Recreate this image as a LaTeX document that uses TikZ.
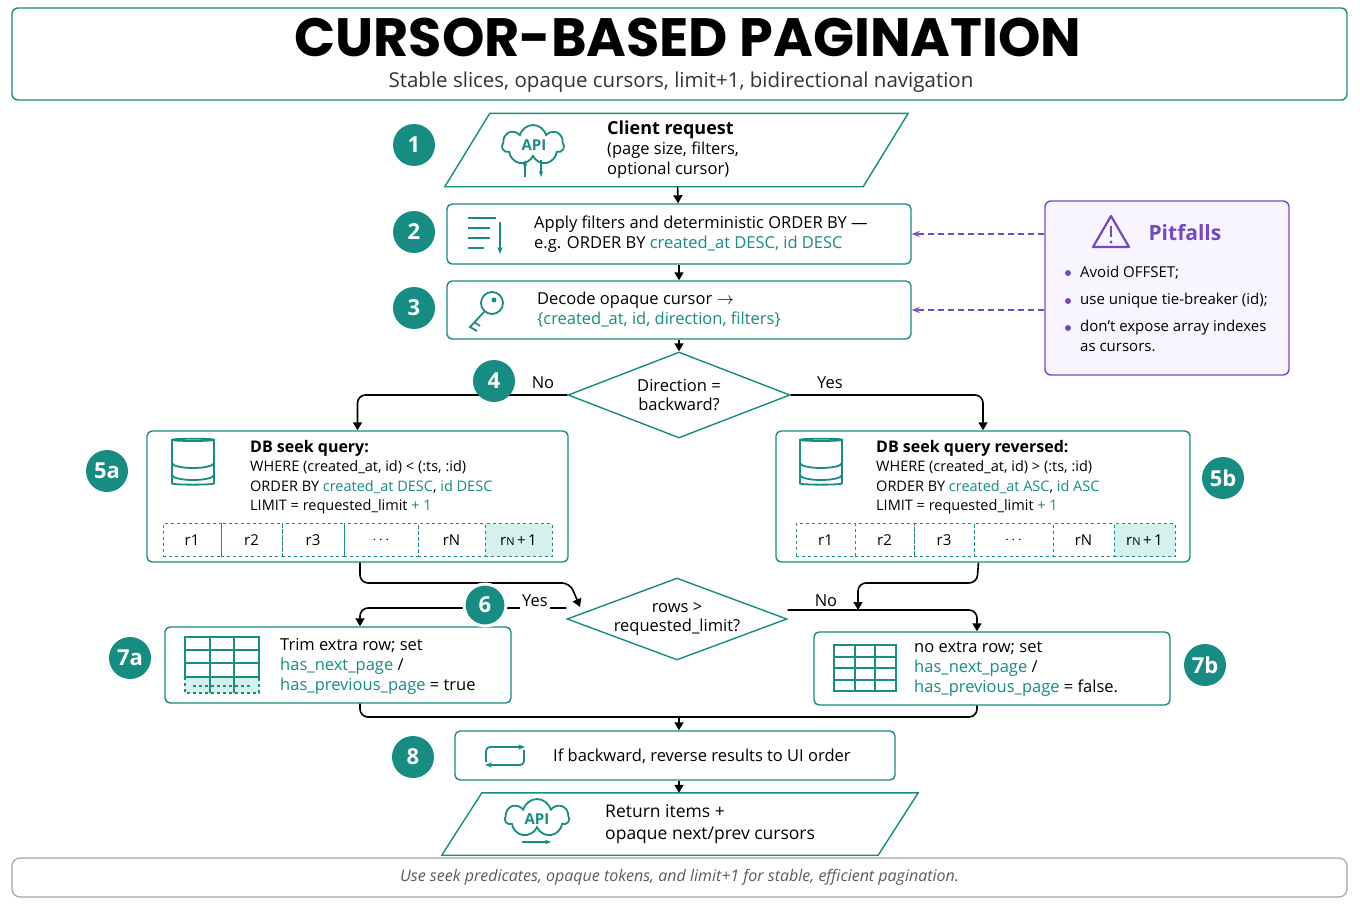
\documentclass[tikz,border=0pt]{standalone}
\usepackage{fontspec}
\setmainfont{Open Sans}
\newfontfamily\titlefont{Poppins}
\usetikzlibrary{shapes.geometric,shapes.symbols,arrows.meta}
\definecolor{teal}{RGB}{22,140,130}
\definecolor{tealfill}{RGB}{212,241,237}
\definecolor{purp}{RGB}{118,72,196}
\definecolor{purpfill}{RGB}{248,245,255}
\definecolor{footgray}{RGB}{90,90,90}
\tikzset{
  box/.style={draw=teal,line width=1.4pt,rounded corners=5pt,fill=white},
  para/.style={inner sep=0pt},
  dia/.style={draw=teal,line width=1.4pt,diamond,fill=white,aspect=2.6},
  num/.style={circle,fill=teal,text=white,minimum size=42pt,inner sep=0pt,font=\fontsize{22}{22}\selectfont\bfseries},
  txt/.style={anchor=west,align=left,inner sep=0pt,font=\fontsize{16.5}{20}\selectfont},
  lbl/.style={font=\fontsize{16.5}{16.5}\selectfont,fill=white,inner sep=2pt},
  flow/.style={line width=1.6pt,-{Triangle[length=8pt,width=9pt]},rounded corners=8pt},
  line/.style={line width=1.6pt,rounded corners=8pt},
  hint/.style={purp,dash pattern=on 6pt off 4pt,line width=1.1pt,-{Stealth[length=8pt]}},
  cell/.style={draw=teal,dashed,line width=1pt,minimum height=33pt,inner sep=0pt,font=\fontsize{15}{15}\selectfont},
  ico/.style={teal,line width=1.8pt},
}
\newcommand{\hl}[1]{\textcolor{teal}{#1}}
\newcommand{\slantbox}[2]{\draw[draw=teal,line width=1.4pt,fill=white] (#1.south west) -- ([xshift=#2]#1.north west) -- (#1.north east) -- ([xshift=-#2]#1.south east) -- cycle;}
\begin{document}
\begin{tikzpicture}[x=1pt,y=-1pt]
\useasboundingbox (0,0) rectangle (1360,907);
% title and footer
\node[box,rounded corners=6pt,minimum width=1335pt,minimum height=92pt] (head) at (679.5,54) {};
\node[inner sep=0pt,font=\titlefont\fontsize{54}{54}\selectfont\bfseries] (title) at (688,37) {CURSOR-BASED PAGINATION};
\node[inner sep=0pt,font=\fontsize{20.5}{20.5}\selectfont,text=black!80] (sub) at (681,82) {Stable slices, opaque cursors, limit+1, bidirectional navigation};
\node[draw=black!35,line width=1.2pt,rounded corners=8pt,minimum width=1335pt,minimum height=39pt] (foot) at (679.5,877.5) {};
\node[font=\fontsize{16}{16}\selectfont\itshape,text=footgray] at (foot) {Use seek predicates, opaque tokens, and limit+1 for stable, efficient pagination.};

% step 1
\node[para,minimum width=463pt,minimum height=73pt] (req) at (676.5,150) {};
\slantbox{req}{45pt}
\node[cloud,draw=teal,line width=1.8pt,cloud puffs=7,aspect=1.5,minimum width=62pt,minimum height=40pt] (api1) at (533,145) {};
\node[font=\fontsize{15}{15}\selectfont\bfseries,text=teal,fill=white,inner sep=1pt] at (534,145) {API};
\draw[ico,-{Stealth[length=6pt]}] (525,177) -- (525,160);
\draw[ico,-{Stealth[length=6pt]}] (541,160) -- (541,177);
\node[txt] at (607,150) {\textbf{\fontsize{18}{20}\selectfont Client request}\\(page size, filters,\\optional cursor)};

% step 2
\node[box,minimum width=464pt,minimum height=60pt] (ord) at (679,234) {};
\foreach \yy/\ww in {218/28,228/22,238/22,248/16} \draw[ico] (468,\yy) -- ++(\ww,0);
\draw[ico,-{Stealth[length=7pt]}] (500,222) -- (500,254);
\node[txt] at (534,234) {Apply filters and deterministic ORDER BY ---\\e.g. ORDER BY \hl{created\_at DESC, id DESC}};

% step 3
\node[box,minimum width=464pt,minimum height=58pt] (dec) at (679,310) {};
\draw[ico] (492,303) circle (11pt);
\fill[teal] (494,300) circle (2.5pt);
\draw[ico] (484,312) -- (470,327) -- (477,331) (474,322) -- (480,326);
\node[txt] at (537,310) {Decode opaque cursor $\rightarrow$\\\hl{\{created\_at, id, direction, filters\}}};

% pitfalls
\node[draw=purp,fill=purpfill,line width=1.4pt,rounded corners=6pt,minimum width=244pt,minimum height=174pt] (pit) at (1167,288) {};
\draw[purp,line width=2.2pt,line join=round] (1111,216) -- (1129,247) -- (1093,247) -- cycle;
\draw[purp,line width=2.4pt] (1111,226) -- (1111,237);
\fill[purp] (1111,242) circle (1.6pt);
\node[anchor=west,font=\fontsize{21}{21}\selectfont\bfseries,text=purp] at (1145,233) {Pitfalls};
\foreach \yy/\tt in {273/Avoid OFFSET;,301/use unique tie-breaker (id);,328/don't expose array indexes} {
  \fill[purp] (1068,\yy) circle (3pt);
  \node[anchor=west,inner sep=0pt,font=\fontsize{15}{15}\selectfont] at (1080,\yy) {\tt};
}
\node[anchor=west,inner sep=0pt,font=\fontsize{15}{15}\selectfont] at (1080,348) {as cursors.};
\draw[hint] (pit.west |- ord) -- (ord.east);
\draw[hint] (pit.west |- dec) -- (dec.east);

% step 4
\node[dia,minimum width=222pt,minimum height=86pt] (dir) at (679,395) {};
\node[align=center,font=\fontsize{16.5}{19}\selectfont] at (679,395) {Direction =\\backward?};

% step 5a
\node[box,minimum width=421pt,minimum height=131pt] (qa) at (357.5,496.5) {};
\node[cylinder,shape border rotate=90,draw=teal,line width=1.8pt,aspect=0.35,minimum width=42pt,minimum height=46pt] (dba) at (193,463) {};
\draw[ico] (172,463) arc (180:360:21pt and 5pt) (172,475) arc (180:360:21pt and 5pt);
\node[txt,font=\fontsize{14.5}{19.5}\selectfont] at (250,477) {\textbf{\fontsize{16}{16}\selectfont DB seek query:}\\WHERE (created\_at, id) < (:ts, :id)\\ORDER BY \hl{created\_at DESC}, \hl{id DESC}\\LIMIT = requested\_limit \hl{+ 1}};
\foreach \a/\b/\t [count=\i] in {163/221/r1,221/282/r2,282/344/r3,344/418/$\cdots$,418/485/rN}
  \node[cell,minimum width=\b pt-\a pt] (ra\i) at ({(\a+\b)/2},540) {\t};
\node[cell,fill=tealfill,minimum width=67pt] (ra6) at (518.5,540) {r{\fontsize{11}{11}\selectfont N}\,+\,1};

% step 5b
\node[box,minimum width=414pt,minimum height=131pt] (qb) at (983,496.5) {};
\node[cylinder,shape border rotate=90,draw=teal,line width=1.8pt,aspect=0.35,minimum width=42pt,minimum height=46pt] (dbb) at (821,463) {};
\draw[ico] (800,463) arc (180:360:21pt and 5pt) (800,475) arc (180:360:21pt and 5pt);
\node[txt,font=\fontsize{14.5}{19.5}\selectfont] at (876,477) {\textbf{\fontsize{16}{16}\selectfont DB seek query reversed:}\\WHERE (created\_at, id) > (:ts, :id)\\ORDER BY \hl{created\_at ASC}, \hl{id ASC}\\LIMIT = requested\_limit \hl{+ 1}};
\foreach \a/\b/\t [count=\i] in {796/855/r1,855/914/r2,914/974/r3,974/1053/$\cdots$,1053/1114/rN}
  \node[cell,minimum width=\b pt-\a pt] (rb\i) at ({(\a+\b)/2},540) {\t};
\node[cell,fill=tealfill,minimum width=61pt] (rb6) at (1144.5,540) {r{\fontsize{11}{11}\selectfont N}\,+\,1};

% step 6
\node[dia,minimum width=220pt,minimum height=82pt] (cmp) at (677,619) {};
\node[align=center,font=\fontsize{16.5}{19}\selectfont] at (677,619) {rows >\\requested\_limit?};

% step 7a
\node[box,minimum width=346pt,minimum height=76pt] (trim) at (338,665) {};
\fill[tealfill] (185,677) rectangle (259,693);
\draw[ico,line width=1.4pt] (185,637) rectangle (259,677);
\draw[ico,line width=1.4pt] (185,650) -- (259,650) (185,663) -- (259,663) (210,637) -- (210,693) (234,637) -- (234,693);
\draw[ico,line width=1.4pt,dashed] (185,677) rectangle (259,693) (193,686) -- (251,686);
\node[txt] at (280,666) {Trim extra row; set\\\hl{has\_next\_page} /\\\hl{has\_previous\_page} = true};

% step 7b
\node[box,minimum width=356pt,minimum height=73pt] (keep) at (992,668.5) {};
\draw[ico,line width=1.4pt] (834,645) rectangle (896,691);
\draw[ico,line width=1.4pt] (834,657) -- (896,657) (834,668) -- (896,668) (834,680) -- (896,680) (855,645) -- (855,691) (875,645) -- (875,691);
\node[txt] at (914,669) {no extra row; set\\\hl{has\_next\_page} /\\\hl{has\_previous\_page} = false.};

% step 8
\node[box,minimum width=440pt,minimum height=49pt] (rev) at (675,755.5) {};
\draw[ico,-{Stealth[length=7pt]},rounded corners=4pt] (486,762) -- (486,747) -- (525,747);
\draw[ico,-{Stealth[length=7pt]},rounded corners=4pt] (524,750) -- (524,765) -- (485,765);
\node[txt] at (553,756) {If backward, reverse results to UI order};

% output
\node[para,minimum width=476pt,minimum height=62pt] (out) at (680,824) {};
\slantbox{out}{40pt}
\node[cloud,draw=teal,line width=1.8pt,cloud puffs=7,aspect=1.6,minimum width=64pt,minimum height=38pt] (api2) at (537,818) {};
\node[font=\fontsize{15}{15}\selectfont\bfseries,text=teal,fill=white,inner sep=1pt] at (537,819) {API};
\draw[ico,-{Stealth[length=6pt]}] (522,842) -- (551,842);
\node[txt,font=\fontsize{17.5}{22}\selectfont] at (605,824) {Return items +\\opaque next/prev cursors};

% connectors
\draw[flow] (req) -- (ord);
\draw[flow] (ord) -- (dec);
\draw[flow] (dec) -- (dir);
\draw[flow] (dir.west) -| (qa);
\draw[flow] (dir.east) -| (qb);
\draw[flow] (qa.south -| 360,0) -- (360,583) -- (570,583) -- (580,607);
\draw[flow] (qb) -- (977,583) -| (858,610);
\draw[flow] (cmp.west |- 0,608) -| (trim.north -| 360,0);
\draw[flow] (cmp.east |- 0,610) -| (keep.north -| 977,0);
\draw[line] (trim.south -| 360,0) |- (679,717);
\draw[line] (keep.south -| 977,0) |- (679,717);
\draw[flow] (679,717) -- (rev.north -| 679,0);
\draw[flow] (rev.south -| 679,0) -- (out.north -| 679,0);

% step numbers and branch labels
\node[num] (n1) at (414,145) {1};
\node[num] (n2) at (414,232) {2};
\node[num] (n3) at (414,308) {3};
\node[num] (n4) at (494,381) {4};
\node[num] (n5a) at (107,471) {5a};
\node[num] (n5b) at (1223,478) {5b};
\node[num,draw=white,line width=3pt] (n6) at (485,605) {6};
\node[num] (n7a) at (130,658) {7a};
\node[num] (n7b) at (1205,665) {7b};
\node[num] (n8) at (413,757) {8};
\node[lbl] at (543,383) {No};
\node[lbl] at (830,383) {Yes};
\node[lbl] at (535,601) {Yes};
\node[lbl] at (826,601) {No};
\end{tikzpicture}
\end{document}
